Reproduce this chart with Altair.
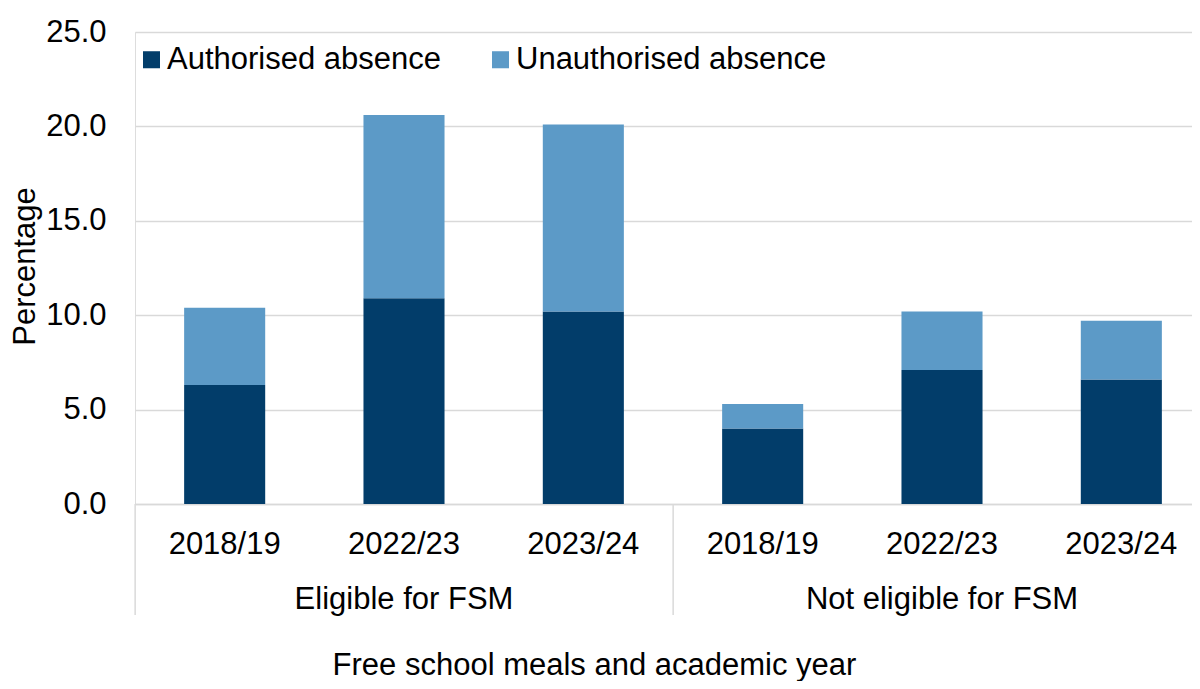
import altair as alt
import pandas as pd

groups = ["Eligible for FSM", "Eligible for FSM", "Eligible for FSM",
          "Not eligible for FSM", "Not eligible for FSM", "Not eligible for FSM"]
years = ["2018/19", "2022/23", "2023/24", "2018/19", "2022/23", "2023/24"]
authorised = [6.3, 10.9, 10.2, 4.0, 7.1, 6.6]
unauthorised = [4.1, 9.7, 9.9, 1.3, 3.1, 3.1]
series = ["Authorised absence", "Unauthorised absence"]
colors = ["#023D6A", "#5C9AC7"]
group_names = ["Eligible for FSM", "Not eligible for FSM"]

FONT = "Liberation Sans"
FS = 31
GRID = "#D9D9D9"

cats = [f"{g}|{y}" for g, y in zip(groups, years)]

rows = []
for c, a, u in zip(cats, authorised, unauthorised):
    rows.append({"cat": c, "series": series[0], "value": a, "ord": 0})
    rows.append({"cat": c, "series": series[1], "value": u, "ord": 1})
df = pd.DataFrame(rows)

W, H = 1057, 472
RANGE_W = 1076
x_scale = alt.Scale(domain=cats, range=[0, RANGE_W], paddingInner=0.548, paddingOuter=0.274)

x_enc = alt.X(
    "cat:N", sort=cats, scale=x_scale,
    axis=alt.Axis(
        title="Free school meals and academic year",
        labelExpr="split(datum.label, '|')[1]",
        labelFontSize=FS, labelFont=FONT, labelColor="#000000", labelAngle=0,
        labelPadding=25, ticks=False, domain=True, domainColor=GRID, domainWidth=1.5,
        titleFontSize=FS, titleFont=FONT, titleFontWeight="normal", titleColor="#000000",
        titleX=459, titleY=170, titleAlign="center", titleBaseline="alphabetic",
        grid=False,
    ),
)

bars = alt.Chart(df).mark_bar(stroke=None).encode(
    x=x_enc,
    y=alt.Y(
        "value:Q", stack="zero",
        scale=alt.Scale(domain=[0, 25], nice=False),
        axis=alt.Axis(
            title="Percentage", values=[0, 5, 10, 15, 20, 25], format=".1f",
            labelFontSize=FS, labelFont=FONT, labelColor="#000000", labelPadding=29,
            ticks=False, domain=False, grid=True, gridColor=GRID, gridWidth=1.5,
            titleFontSize=FS, titleFont=FONT, titleFontWeight="normal", titleColor="#000000",
            titleAngle=-90, titleX=-110, titleY=234, titleAlign="center", titleBaseline="middle",
        ),
    ),
    color=alt.Color(
        "series:N",
        scale=alt.Scale(domain=series, range=colors),
        legend=alt.Legend(
            title=None, orient="none", legendX=1, legendY=12, direction="horizontal",
            padding=0, offset=0,
            symbolType="square", symbolSize=290, symbolStrokeWidth=0, symbolOpacity=1,
            labelFontSize=FS, labelFont=FONT, labelColor="#000000", labelOffset=0,
            columnPadding=43, labelLimit=600,
        ),
    ),
    order=alt.Order("ord:Q", sort="ascending"),
)

mid_df = pd.DataFrame({"cat": [cats[1], cats[4]], "label": group_names})
group_text = alt.Chart(mid_df).mark_text(
    font=FONT, fontSize=FS, color="#000000", baseline="middle", align="center"
).encode(
    x=alt.X("cat:N", sort=cats, scale=x_scale),
    y=alt.value(H + 96),
    text="label:N",
)

sep_df = pd.DataFrame({"cat": [cats[0], cats[3]]})
seps = alt.Chart(sep_df).mark_rule(color=GRID, strokeWidth=1.5, xOffset=-49).encode(
    x=alt.X("cat:N", sort=cats, scale=x_scale, bandPosition=0),
    y=alt.value(H),
    y2=alt.value(H + 111),
)

chart = alt.layer(bars, seps, group_text).properties(
    width=W, height=H,
    autosize=alt.AutoSizeParams(type="none"),
    padding={"left": 127, "top": 24, "right": 0, "bottom": 177},
).configure_view(stroke=None).configure(background="white")

chart.save("out.html", embed_options={"renderer": "svg", "actions": False})
